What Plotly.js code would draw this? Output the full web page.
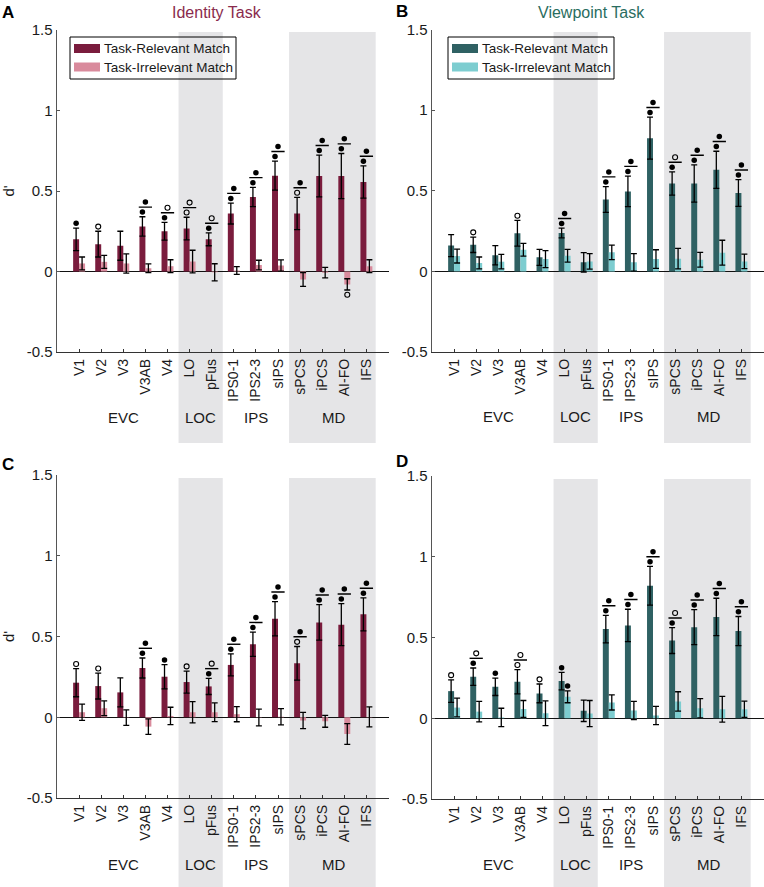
<!DOCTYPE html>
<html><head><meta charset="utf-8">
<script src="https://cdn.plot.ly/plotly-3.0.1.min.js"></script>
<style>html,body{margin:0;padding:0;background:#fff}</style>
</head><body>
<div id="chart" style="width:764px;height:887px"></div>
<script>
// ---------- data ----------
const rois = ['V1','V2','V3','V3AB','V4','LO','pFus','IPS0-1','IPS2-3','sIPS','sPCS','iPCS','AI-FO','IFS'];
const groupNames = ['EVC','LOC','IPS','MD'];
const groupCenters = [3, 6.5, 9, 12.5];
const shadedSpans = [[5.5, 7.5], [10.5, 14.42]];
const yTickVals = [-0.5, 0, 0.5, 1, 1.5];
const yTickText = ['-0.5', '0', '0.5', '1', '1.5'];
const seriesNames = ['Task-Relevant Match', 'Task-Irrelevant Match'];
const taskTitles = ['Identity Task', 'Viewpoint Task'];

// Panel A (Identity Task, top)
const aRelevant      = [0.20,0.17,0.16,0.28,0.25,0.267,0.20,0.36,0.463,0.595,0.36,0.593,0.593,0.556];
const aRelevantErr   = [0.07,0.08,0.09,0.06,0.055,0.07,0.04,0.065,0.06,0.09,0.10,0.13,0.14,0.10];
const aIrrelevant    = [0.05,0.06,0.05,0.02,0.033,0.062,-0.005,0.006,0.04,0.037,-0.05,-0.007,-0.08,0.033];
const aIrrelevantErr = [0.04,0.04,0.06,0.027,0.04,0.07,0.053,0.024,0.03,0.035,0.043,0.033,0.035,0.04];
const aRelevantSig   = ['f','o','','f','f','o','f','f','f','f','o','f','f','f'];
const aIrrelevantSig = ['','','','','','','','','','','','','o',''];
const aDiffSig       = ['','','','f','o','o','o','f','f','f','f','f','f','f'];

// Panel B (Viewpoint Task, top)
const bRelevant      = [0.16,0.165,0.10,0.236,0.087,0.238,0.056,0.446,0.496,0.826,0.545,0.545,0.63,0.486];
const bRelevantErr   = [0.068,0.048,0.06,0.08,0.05,0.03,0.06,0.08,0.095,0.13,0.072,0.115,0.115,0.083];
const bIrrelevant    = [0.095,0.052,0.06,0.134,0.076,0.097,0.062,0.118,0.056,0.076,0.079,0.072,0.116,0.062];
const bIrrelevantErr = [0.043,0.037,0.045,0.04,0.053,0.04,0.048,0.045,0.054,0.058,0.064,0.046,0.077,0.045];
const bRelevantSig   = ['','o','','o','','f','','f','f','f','f','f','f','f'];
const bIrrelevantSig = ['','','','','','','','','','','','','',''];
const bDiffSig       = ['','','','','','f','','f','f','f','o','f','f','f'];

// Panel C (Identity Task, bottom)
const cRelevant      = [0.214,0.193,0.154,0.305,0.251,0.218,0.191,0.324,0.452,0.61,0.334,0.587,0.573,0.637];
const cRelevantErr   = [0.087,0.08,0.09,0.062,0.075,0.068,0.05,0.068,0.075,0.106,0.104,0.11,0.13,0.102];
const cIrrelevant    = [0.031,0.056,-0.002,-0.058,0.008,0.031,0.031,0.019,-0.002,0.003,-0.02,-0.025,-0.104,0.002];
const cIrrelevantErr = [0.05,0.046,0.048,0.048,0.054,0.066,0.058,0.047,0.052,0.05,0.05,0.037,0.064,0.062];
const cRelevantSig   = ['o','o','','f','f','o','f','f','f','f','o','f','f','f'];
const cIrrelevantSig = ['','','','','','','','','','','','','',''];
const cDiffSig       = ['','','','f','','','o','f','f','f','f','f','f','f'];

// Panel D (Viewpoint Task, bottom)
const dRelevant      = [0.168,0.257,0.195,0.226,0.154,0.23,0.046,0.552,0.575,0.82,0.481,0.564,0.627,0.54];
const dRelevantErr   = [0.07,0.054,0.054,0.075,0.058,0.054,0.066,0.085,0.10,0.12,0.08,0.108,0.116,0.09];
const dIrrelevant    = [0.066,0.041,0.005,0.058,0.031,0.133,0.029,0.098,0.048,0.017,0.104,0.062,0.056,0.056];
const dIrrelevantErr = [0.058,0.064,0.057,0.052,0.077,0.037,0.081,0.047,0.056,0.057,0.06,0.06,0.08,0.05];
const dRelevantSig   = ['o','f','f','o','o','f','','f','f','f','f','f','f','f'];
const dIrrelevantSig = ['','','','','','f','','','','','','','',''];
const dDiffSig       = ['','o','','o','','','','f','f','f','o','f','f','f'];

// ---------- styling / layout helpers ----------
const W = 764, H = 887;
const FONT = 'Liberation Sans, Arial, Helvetica, sans-serif';
const px = v => v / W;
const py = v => 1 - v / H;
const identityColors = {dark: '#7a1c3d', light: '#d98a9c', title: '#8a2b4d'};
const viewpointColors = {dark: '#2f6163', light: '#7dcdd0', title: '#2a6d60'};
const BW = 0.27;        // bar width (x units)
const GAP = 0.029;      // gap between error-bar top and marker (y units)
const STEP = 0.031;     // step between marker, line and difference marker

const panels = [
  {letter:'A', xa:'x',  ya:'y',  task:0, colors:identityColors,
   rel:aRelevant, relErr:aRelevantErr, irr:aIrrelevant, irrErr:aIrrelevantErr,
   relSig:aRelevantSig, irrSig:aIrrelevantSig, diffSig:aDiffSig,
   xd:[57, 388.5], yd:[30, 352], shade:[32, 443], groupY:417.5, letterPos:[8, 12], ytitle:true, legend:[70, 37]},
  {letter:'B', xa:'x2', ya:'y2', task:1, colors:viewpointColors,
   rel:bRelevant, relErr:bRelevantErr, irr:bIrrelevant, irrErr:bIrrelevantErr,
   relSig:bRelevantSig, irrSig:bIrrelevantSig, diffSig:bDiffSig,
   xd:[432, 763.5], yd:[29.5, 352], shade:[32, 443], groupY:417, letterPos:[402, 11], ytitle:false, legend:[448, 37]},
  {letter:'C', xa:'x3', ya:'y3', task:0, colors:identityColors,
   rel:cRelevant, relErr:cRelevantErr, irr:cIrrelevant, irrErr:cIrrelevantErr,
   relSig:cRelevantSig, irrSig:cIrrelevantSig, diffSig:cDiffSig,
   xd:[57, 388.5], yd:[475, 798], shade:[478, 887], groupY:864, letterPos:[8, 464], ytitle:true},
  {letter:'D', xa:'x4', ya:'y4', task:1, colors:viewpointColors,
   rel:dRelevant, relErr:dRelevantErr, irr:dIrrelevant, irrErr:dIrrelevantErr,
   relSig:dRelevantSig, irrSig:dIrrelevantSig, diffSig:dDiffSig,
   xd:[432, 763.5], yd:[476, 799], shade:[479, 887], groupY:864, letterPos:[402, 462], ytitle:false}
];

const xs = rois.map((r, i) => i + 1);
const traces = [];
const shapes = [];
const annotations = [];
const layout = {
  width: W, height: H, margin: {l:0, r:0, t:0, b:0},
  paper_bgcolor: '#fff', plot_bgcolor: 'rgba(0,0,0,0)',
  showlegend: false, barmode: 'overlay', hovermode: false,
  font: {family: FONT, color: '#1a1a1a'}
};

panels.forEach((p, pi) => {
  const n = pi === 0 ? '' : String(pi + 1);
  layout['xaxis' + n] = {
    domain: [px(p.xd[0]), px(p.xd[1])], anchor: p.ya, range: [0, 15],
    tickmode: 'array', tickvals: xs, ticktext: rois, tickangle: -90,
    ticks: 'inside', ticklen: 3, tickcolor: '#333', tickwidth: 1,
    showline: true, linecolor: '#333', linewidth: 1.3,
    showgrid: false, zeroline: false, fixedrange: true,
    tickfont: {size: 14, family: FONT, color: '#1a1a1a'}
  };
  layout['yaxis' + n] = {
    domain: [py(p.yd[1]), py(p.yd[0])], anchor: p.xa, range: [-0.5, 1.5],
    tickmode: 'array', tickvals: yTickVals, ticktext: yTickText,
    ticks: 'inside', ticklen: 3, tickcolor: '#555', tickwidth: 1,
    showline: true, linecolor: '#555', linewidth: 1.4,
    showgrid: false, zeroline: true, zerolinecolor: '#111', zerolinewidth: 1.2,
    fixedrange: true,
    tickfont: {size: 15, family: FONT, color: '#1a1a1a'},
    title: p.ytitle ? {text: "d'", font: {size: 15, family: FONT}, standoff: 12} : {text: ''}
  };

  // shaded ROI groups
  shadedSpans.forEach(s => shapes.push({
    type: 'rect', xref: p.xa, yref: 'paper', x0: s[0], x1: s[1],
    y0: py(p.shade[1]), y1: py(p.shade[0]),
    fillcolor: '#e5e5e7', line: {width: 0}, layer: 'below'
  }));

  // bars
  traces.push({
    type: 'bar', x: xs, y: p.rel, width: BW, offset: -BW, xaxis: p.xa, yaxis: p.ya,
    name: seriesNames[0], marker: {color: p.colors.dark, line: {width: 0}},
    error_y: {type: 'data', array: p.relErr, visible: true, color: '#000', thickness: 1.3, width: 3}
  });
  traces.push({
    type: 'bar', x: xs, y: p.irr, width: BW, offset: 0, xaxis: p.xa, yaxis: p.ya,
    name: seriesNames[1], marker: {color: p.colors.light, line: {width: 0}},
    error_y: {type: 'data', array: p.irrErr, visible: true, color: '#000', thickness: 1.3, width: 3}
  });

  // significance markers
  const filled = {x: [], y: []}, open = {x: [], y: []}, lines = {x: [], y: []};
  const put = (code, x, y) => { const t = code === 'f' ? filled : open; t.x.push(x); t.y.push(y); };
  xs.forEach((pos, i) => {
    const dotY = p.rel[i] + p.relErr[i] + GAP;
    if (p.relSig[i]) put(p.relSig[i], pos - BW / 2, dotY);
    if (p.irrSig[i]) {
      const v = p.irr[i], e = p.irrErr[i];
      put(p.irrSig[i], pos + BW / 2, v >= 0 ? v + e + GAP : v - e - GAP);
    }
    if (p.diffSig[i]) {
      const ly = dotY + STEP;
      lines.x.push(pos - 0.3, pos + 0.3, null); lines.y.push(ly, ly, null);
      put(p.diffSig[i], pos, ly + STEP);
    }
  });
  traces.push({type: 'scatter', mode: 'lines', x: lines.x, y: lines.y, xaxis: p.xa, yaxis: p.ya,
    line: {color: '#000', width: 1.4}, cliponaxis: false, connectgaps: false});
  traces.push({type: 'scatter', mode: 'markers', x: filled.x, y: filled.y, xaxis: p.xa, yaxis: p.ya,
    marker: {symbol: 'circle', size: 5.5, color: '#000'}, cliponaxis: false});
  traces.push({type: 'scatter', mode: 'markers', x: open.x, y: open.y, xaxis: p.xa, yaxis: p.ya,
    marker: {symbol: 'circle-open', size: 5, color: '#000', line: {width: 1.1, color: '#000'}}, cliponaxis: false});

  // group labels
  groupNames.forEach((g, gi) => annotations.push({
    text: g, xref: p.xa, yref: 'paper', x: groupCenters[gi], y: py(p.groupY),
    showarrow: false, xanchor: 'center', yanchor: 'middle', font: {size: 15, family: FONT, color: '#1a1a1a'}
  }));

  // panel letter
  annotations.push({text: '<b>' + p.letter + '</b>', xref: 'paper', yref: 'paper',
    x: px(p.letterPos[0]), y: py(p.letterPos[1]), showarrow: false, xanchor: 'center', yanchor: 'middle',
    font: {size: 17, family: FONT, color: '#000'}});

  // legend (top panels only)
  if (p.legend) {
    const lx = p.legend[0], ly = p.legend[1];
    shapes.push({type: 'rect', xref: 'paper', yref: 'paper', x0: px(lx), x1: px(lx + 166),
      y0: py(ly + 42), y1: py(ly), line: {color: '#000', width: 1}, fillcolor: 'rgba(0,0,0,0)', layer: 'above'});
    [p.colors.dark, p.colors.light].forEach((c, k) => {
      const sy = ly + 7 + k * 18.5;
      shapes.push({type: 'rect', xref: 'paper', yref: 'paper', x0: px(lx + 4), x1: px(lx + 30),
        y0: py(sy + 9), y1: py(sy), fillcolor: c, line: {width: 0}, layer: 'above'});
      annotations.push({text: seriesNames[k], xref: 'paper', yref: 'paper', x: px(lx + 32), y: py(sy + 4.5),
        showarrow: false, xanchor: 'left', yanchor: 'middle', font: {size: 13.5, family: FONT, color: '#1a1a1a'}});
    });
  }
});

// task titles
annotations.push({text: taskTitles[0], xref: 'paper', yref: 'paper', x: px(217), y: py(13),
  showarrow: false, xanchor: 'center', yanchor: 'middle', font: {size: 16, family: FONT, color: identityColors.title}});
annotations.push({text: taskTitles[1], xref: 'paper', yref: 'paper', x: px(591), y: py(13),
  showarrow: false, xanchor: 'center', yanchor: 'middle', font: {size: 16, family: FONT, color: viewpointColors.title}});

layout.shapes = shapes;
layout.annotations = annotations;

Plotly.newPlot('chart', traces, layout, {staticPlot: true, displayModeBar: false});
</script>
</body></html>
